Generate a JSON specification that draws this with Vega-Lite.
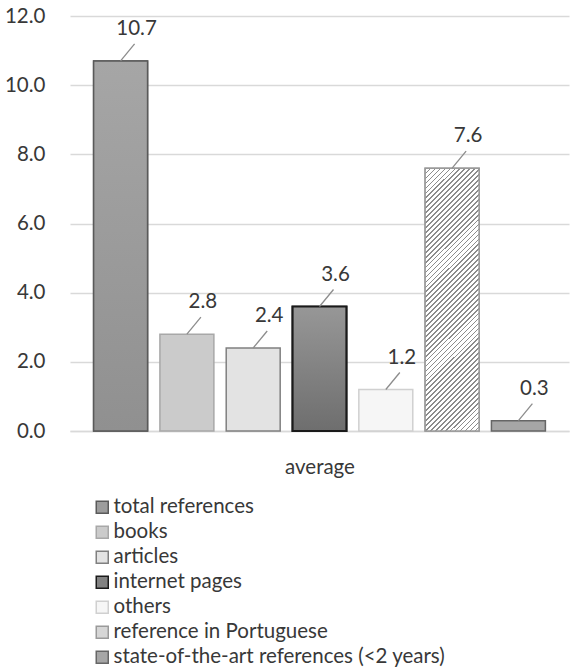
{
  "$schema": "https://vega.github.io/schema/vega-lite/v6.json",
  "width": 499,
  "height": 415,
  "autosize": {"type": "none"},
  "padding": {"left": 70, "top": 16, "right": 3, "bottom": 239},
  "background": "white",
  "config": {"font": "Lato", "view": {"stroke": null}},
  "data": {
    "values": [
      {"series": "total references", "value": 10.7},
      {"series": "books", "value": 2.8},
      {"series": "articles", "value": 2.4},
      {"series": "internet pages", "value": 3.6},
      {"series": "others", "value": 1.2},
      {"series": "reference in Portuguese", "value": 7.6},
      {"series": "state-of-the-art references (<2 years)", "value": 0.3}
    ]
  },
  "encoding": {
    "x": {
      "field": "series",
      "type": "nominal",
      "sort": null,
      "scale": {
        "domain": ["total references", "books", "articles", "internet pages", "others", "reference in Portuguese", "state-of-the-art references (<2 years)"],
        "paddingInner": 0.186,
        "paddingOuter": 0.356
      },
      "axis": {
        "labels": false,
        "ticks": false,
        "domain": true,
        "domainColor": "#d9d9d9",
        "domainWidth": 1.5,
        "title": "average",
        "titleFont": "Lato",
        "titleFontSize": 20.5,
        "titleFontWeight": "normal",
        "titleColor": "#383838",
        "titlePadding": 26
      }
    },
    "y": {
      "field": "value",
      "type": "quantitative",
      "scale": {"domain": [0, 12]},
      "axis": {
        "values": [0, 2, 4, 6, 8, 10, 12],
        "format": ".1f",
        "title": null,
        "domain": false,
        "ticks": false,
        "grid": true,
        "gridColor": "#d9d9d9",
        "gridWidth": 1.5,
        "labelFontSize": 20.5,
        "labelColor": "#383838",
        "labelPadding": 25
      }
    }
  },
  "layer": [
    {
      "mark": {"type": "bar"},
      "encoding": {
        "fill": {
          "field": "series",
          "type": "nominal",
          "sort": null,
          "scale": {
            "domain": ["total references", "books", "articles", "internet pages", "others", "reference in Portuguese", "state-of-the-art references (<2 years)"],
            "range": ["#9c9c9c", "#cbcbcb", "#e3e3e3", "#828282", "#f6f6f6", "#d6d6d6", "#a6a6a6"]
          },
          "legend": {
            "orient": "none",
            "legendX": 22,
            "legendY": 481,
            "direction": "vertical",
            "title": null,
            "padding": 0,
            "symbolType": "square",
            "symbolSize": 144,
            "symbolStrokeWidth": 1.5,
            "labelFont": "Lato",
            "labelFontSize": 20.5,
            "labelColor": "#383838",
            "labelOffset": 1,
            "labelLimit": 0,
            "rowPadding": 4
          }
        },
        "stroke": {
          "field": "series",
          "type": "nominal",
          "sort": null,
          "scale": {
            "domain": ["total references", "books", "articles", "internet pages", "others", "reference in Portuguese", "state-of-the-art references (<2 years)"],
            "range": ["#5a5a5a", "#a8a8a8", "#808080", "#1a1a1a", "#d0d0d0", "#9a9a9a", "#666666"]
          },
          "legend": {
            "orient": "none",
            "legendX": 22,
            "legendY": 481,
            "direction": "vertical",
            "title": null,
            "padding": 0,
            "symbolType": "square",
            "symbolSize": 144,
            "symbolStrokeWidth": 1.5,
            "labelFont": "Lato",
            "labelFontSize": 20.5,
            "labelColor": "#383838",
            "labelOffset": 1,
            "labelLimit": 0,
            "rowPadding": 4
          }
        },
        "strokeWidth": {
          "field": "series",
          "type": "ordinal",
          "sort": null,
          "scale": {
            "domain": ["total references", "books", "articles", "internet pages", "others", "reference in Portuguese", "state-of-the-art references (<2 years)"],
            "range": [1.5, 1.5, 1.5, 2.2, 1.5, 1.5, 1.5]
          },
          "legend": null
        }
      }
    },
    {
      "transform": [{"filter": "datum.series === 'total references'"}],
      "mark": {
        "type": "bar",
        "stroke": "#5a5a5a",
        "strokeWidth": 1.5,
        "fill": {"gradient": "linear", "x1": 0, "y1": 0, "x2": 0, "y2": 1, "stops": [{"offset": 0, "color": "#a6a6a6"}, {"offset": 1, "color": "#909090"}]}
      }
    },
    {
      "transform": [{"filter": "datum.series === 'internet pages'"}],
      "mark": {
        "type": "bar",
        "stroke": "#1a1a1a",
        "strokeWidth": 2.2,
        "fill": {"gradient": "linear", "x1": 0, "y1": 0, "x2": 0, "y2": 1, "stops": [{"offset": 0, "color": "#979797"}, {"offset": 1, "color": "#6e6e6e"}]}
      }
    },
    {
      "transform": [{"filter": "datum.series === 'reference in Portuguese'"}],
      "mark": {
        "type": "bar",
        "stroke": "#9a9a9a",
        "strokeWidth": 1.5,
        "fill": {"gradient": "linear", "x1": 0, "y1": 0, "x2": 0.237, "y2": 1.156, "stops": [
          {"offset": 0, "color": "#8c8c8c"}, {"offset": 0.0055, "color": "#8c8c8c"}, {"offset": 0.0055, "color": "#fff"}, {"offset": 0.015625, "color": "#fff"},
          {"offset": 0.015625, "color": "#8c8c8c"}, {"offset": 0.021125, "color": "#8c8c8c"}, {"offset": 0.021125, "color": "#fff"}, {"offset": 0.03125, "color": "#fff"},
          {"offset": 0.03125, "color": "#8c8c8c"}, {"offset": 0.03675, "color": "#8c8c8c"}, {"offset": 0.03675, "color": "#fff"}, {"offset": 0.046875, "color": "#fff"},
          {"offset": 0.046875, "color": "#8c8c8c"}, {"offset": 0.052375, "color": "#8c8c8c"}, {"offset": 0.052375, "color": "#fff"}, {"offset": 0.0625, "color": "#fff"},
          {"offset": 0.0625, "color": "#8c8c8c"}, {"offset": 0.068, "color": "#8c8c8c"}, {"offset": 0.068, "color": "#fff"}, {"offset": 0.078125, "color": "#fff"},
          {"offset": 0.078125, "color": "#8c8c8c"}, {"offset": 0.083625, "color": "#8c8c8c"}, {"offset": 0.083625, "color": "#fff"}, {"offset": 0.09375, "color": "#fff"},
          {"offset": 0.09375, "color": "#8c8c8c"}, {"offset": 0.09925, "color": "#8c8c8c"}, {"offset": 0.09925, "color": "#fff"}, {"offset": 0.109375, "color": "#fff"},
          {"offset": 0.109375, "color": "#8c8c8c"}, {"offset": 0.114875, "color": "#8c8c8c"}, {"offset": 0.114875, "color": "#fff"}, {"offset": 0.125, "color": "#fff"},
          {"offset": 0.125, "color": "#8c8c8c"}, {"offset": 0.1305, "color": "#8c8c8c"}, {"offset": 0.1305, "color": "#fff"}, {"offset": 0.140625, "color": "#fff"},
          {"offset": 0.140625, "color": "#8c8c8c"}, {"offset": 0.146125, "color": "#8c8c8c"}, {"offset": 0.146125, "color": "#fff"}, {"offset": 0.15625, "color": "#fff"},
          {"offset": 0.15625, "color": "#8c8c8c"}, {"offset": 0.16175, "color": "#8c8c8c"}, {"offset": 0.16175, "color": "#fff"}, {"offset": 0.171875, "color": "#fff"},
          {"offset": 0.171875, "color": "#8c8c8c"}, {"offset": 0.177375, "color": "#8c8c8c"}, {"offset": 0.177375, "color": "#fff"}, {"offset": 0.1875, "color": "#fff"},
          {"offset": 0.1875, "color": "#8c8c8c"}, {"offset": 0.193, "color": "#8c8c8c"}, {"offset": 0.193, "color": "#fff"}, {"offset": 0.203125, "color": "#fff"},
          {"offset": 0.203125, "color": "#8c8c8c"}, {"offset": 0.208625, "color": "#8c8c8c"}, {"offset": 0.208625, "color": "#fff"}, {"offset": 0.21875, "color": "#fff"},
          {"offset": 0.21875, "color": "#8c8c8c"}, {"offset": 0.22425, "color": "#8c8c8c"}, {"offset": 0.22425, "color": "#fff"}, {"offset": 0.234375, "color": "#fff"},
          {"offset": 0.234375, "color": "#8c8c8c"}, {"offset": 0.239875, "color": "#8c8c8c"}, {"offset": 0.239875, "color": "#fff"}, {"offset": 0.25, "color": "#fff"},
          {"offset": 0.25, "color": "#8c8c8c"}, {"offset": 0.2555, "color": "#8c8c8c"}, {"offset": 0.2555, "color": "#fff"}, {"offset": 0.265625, "color": "#fff"},
          {"offset": 0.265625, "color": "#8c8c8c"}, {"offset": 0.271125, "color": "#8c8c8c"}, {"offset": 0.271125, "color": "#fff"}, {"offset": 0.28125, "color": "#fff"},
          {"offset": 0.28125, "color": "#8c8c8c"}, {"offset": 0.28675, "color": "#8c8c8c"}, {"offset": 0.28675, "color": "#fff"}, {"offset": 0.296875, "color": "#fff"},
          {"offset": 0.296875, "color": "#8c8c8c"}, {"offset": 0.302375, "color": "#8c8c8c"}, {"offset": 0.302375, "color": "#fff"}, {"offset": 0.3125, "color": "#fff"},
          {"offset": 0.3125, "color": "#8c8c8c"}, {"offset": 0.318, "color": "#8c8c8c"}, {"offset": 0.318, "color": "#fff"}, {"offset": 0.328125, "color": "#fff"},
          {"offset": 0.328125, "color": "#8c8c8c"}, {"offset": 0.333625, "color": "#8c8c8c"}, {"offset": 0.333625, "color": "#fff"}, {"offset": 0.34375, "color": "#fff"},
          {"offset": 0.34375, "color": "#8c8c8c"}, {"offset": 0.34925, "color": "#8c8c8c"}, {"offset": 0.34925, "color": "#fff"}, {"offset": 0.359375, "color": "#fff"},
          {"offset": 0.359375, "color": "#8c8c8c"}, {"offset": 0.364875, "color": "#8c8c8c"}, {"offset": 0.364875, "color": "#fff"}, {"offset": 0.375, "color": "#fff"},
          {"offset": 0.375, "color": "#8c8c8c"}, {"offset": 0.3805, "color": "#8c8c8c"}, {"offset": 0.3805, "color": "#fff"}, {"offset": 0.390625, "color": "#fff"},
          {"offset": 0.390625, "color": "#8c8c8c"}, {"offset": 0.396125, "color": "#8c8c8c"}, {"offset": 0.396125, "color": "#fff"}, {"offset": 0.40625, "color": "#fff"},
          {"offset": 0.40625, "color": "#8c8c8c"}, {"offset": 0.41175, "color": "#8c8c8c"}, {"offset": 0.41175, "color": "#fff"}, {"offset": 0.421875, "color": "#fff"},
          {"offset": 0.421875, "color": "#8c8c8c"}, {"offset": 0.427375, "color": "#8c8c8c"}, {"offset": 0.427375, "color": "#fff"}, {"offset": 0.4375, "color": "#fff"},
          {"offset": 0.4375, "color": "#8c8c8c"}, {"offset": 0.443, "color": "#8c8c8c"}, {"offset": 0.443, "color": "#fff"}, {"offset": 0.453125, "color": "#fff"},
          {"offset": 0.453125, "color": "#8c8c8c"}, {"offset": 0.458625, "color": "#8c8c8c"}, {"offset": 0.458625, "color": "#fff"}, {"offset": 0.46875, "color": "#fff"},
          {"offset": 0.46875, "color": "#8c8c8c"}, {"offset": 0.47425, "color": "#8c8c8c"}, {"offset": 0.47425, "color": "#fff"}, {"offset": 0.484375, "color": "#fff"},
          {"offset": 0.484375, "color": "#8c8c8c"}, {"offset": 0.489875, "color": "#8c8c8c"}, {"offset": 0.489875, "color": "#fff"}, {"offset": 0.5, "color": "#fff"},
          {"offset": 0.5, "color": "#8c8c8c"}, {"offset": 0.5055, "color": "#8c8c8c"}, {"offset": 0.5055, "color": "#fff"}, {"offset": 0.515625, "color": "#fff"},
          {"offset": 0.515625, "color": "#8c8c8c"}, {"offset": 0.521125, "color": "#8c8c8c"}, {"offset": 0.521125, "color": "#fff"}, {"offset": 0.53125, "color": "#fff"},
          {"offset": 0.53125, "color": "#8c8c8c"}, {"offset": 0.53675, "color": "#8c8c8c"}, {"offset": 0.53675, "color": "#fff"}, {"offset": 0.546875, "color": "#fff"},
          {"offset": 0.546875, "color": "#8c8c8c"}, {"offset": 0.552375, "color": "#8c8c8c"}, {"offset": 0.552375, "color": "#fff"}, {"offset": 0.5625, "color": "#fff"},
          {"offset": 0.5625, "color": "#8c8c8c"}, {"offset": 0.568, "color": "#8c8c8c"}, {"offset": 0.568, "color": "#fff"}, {"offset": 0.578125, "color": "#fff"},
          {"offset": 0.578125, "color": "#8c8c8c"}, {"offset": 0.583625, "color": "#8c8c8c"}, {"offset": 0.583625, "color": "#fff"}, {"offset": 0.59375, "color": "#fff"},
          {"offset": 0.59375, "color": "#8c8c8c"}, {"offset": 0.59925, "color": "#8c8c8c"}, {"offset": 0.59925, "color": "#fff"}, {"offset": 0.609375, "color": "#fff"},
          {"offset": 0.609375, "color": "#8c8c8c"}, {"offset": 0.614875, "color": "#8c8c8c"}, {"offset": 0.614875, "color": "#fff"}, {"offset": 0.625, "color": "#fff"},
          {"offset": 0.625, "color": "#8c8c8c"}, {"offset": 0.6305, "color": "#8c8c8c"}, {"offset": 0.6305, "color": "#fff"}, {"offset": 0.640625, "color": "#fff"},
          {"offset": 0.640625, "color": "#8c8c8c"}, {"offset": 0.646125, "color": "#8c8c8c"}, {"offset": 0.646125, "color": "#fff"}, {"offset": 0.65625, "color": "#fff"},
          {"offset": 0.65625, "color": "#8c8c8c"}, {"offset": 0.66175, "color": "#8c8c8c"}, {"offset": 0.66175, "color": "#fff"}, {"offset": 0.671875, "color": "#fff"},
          {"offset": 0.671875, "color": "#8c8c8c"}, {"offset": 0.677375, "color": "#8c8c8c"}, {"offset": 0.677375, "color": "#fff"}, {"offset": 0.6875, "color": "#fff"},
          {"offset": 0.6875, "color": "#8c8c8c"}, {"offset": 0.693, "color": "#8c8c8c"}, {"offset": 0.693, "color": "#fff"}, {"offset": 0.703125, "color": "#fff"},
          {"offset": 0.703125, "color": "#8c8c8c"}, {"offset": 0.708625, "color": "#8c8c8c"}, {"offset": 0.708625, "color": "#fff"}, {"offset": 0.71875, "color": "#fff"},
          {"offset": 0.71875, "color": "#8c8c8c"}, {"offset": 0.72425, "color": "#8c8c8c"}, {"offset": 0.72425, "color": "#fff"}, {"offset": 0.734375, "color": "#fff"},
          {"offset": 0.734375, "color": "#8c8c8c"}, {"offset": 0.739875, "color": "#8c8c8c"}, {"offset": 0.739875, "color": "#fff"}, {"offset": 0.75, "color": "#fff"},
          {"offset": 0.75, "color": "#8c8c8c"}, {"offset": 0.7555, "color": "#8c8c8c"}, {"offset": 0.7555, "color": "#fff"}, {"offset": 0.765625, "color": "#fff"},
          {"offset": 0.765625, "color": "#8c8c8c"}, {"offset": 0.771125, "color": "#8c8c8c"}, {"offset": 0.771125, "color": "#fff"}, {"offset": 0.78125, "color": "#fff"},
          {"offset": 0.78125, "color": "#8c8c8c"}, {"offset": 0.78675, "color": "#8c8c8c"}, {"offset": 0.78675, "color": "#fff"}, {"offset": 0.796875, "color": "#fff"},
          {"offset": 0.796875, "color": "#8c8c8c"}, {"offset": 0.802375, "color": "#8c8c8c"}, {"offset": 0.802375, "color": "#fff"}, {"offset": 0.8125, "color": "#fff"},
          {"offset": 0.8125, "color": "#8c8c8c"}, {"offset": 0.818, "color": "#8c8c8c"}, {"offset": 0.818, "color": "#fff"}, {"offset": 0.828125, "color": "#fff"},
          {"offset": 0.828125, "color": "#8c8c8c"}, {"offset": 0.833625, "color": "#8c8c8c"}, {"offset": 0.833625, "color": "#fff"}, {"offset": 0.84375, "color": "#fff"},
          {"offset": 0.84375, "color": "#8c8c8c"}, {"offset": 0.84925, "color": "#8c8c8c"}, {"offset": 0.84925, "color": "#fff"}, {"offset": 0.859375, "color": "#fff"},
          {"offset": 0.859375, "color": "#8c8c8c"}, {"offset": 0.864875, "color": "#8c8c8c"}, {"offset": 0.864875, "color": "#fff"}, {"offset": 0.875, "color": "#fff"},
          {"offset": 0.875, "color": "#8c8c8c"}, {"offset": 0.8805, "color": "#8c8c8c"}, {"offset": 0.8805, "color": "#fff"}, {"offset": 0.890625, "color": "#fff"},
          {"offset": 0.890625, "color": "#8c8c8c"}, {"offset": 0.896125, "color": "#8c8c8c"}, {"offset": 0.896125, "color": "#fff"}, {"offset": 0.90625, "color": "#fff"},
          {"offset": 0.90625, "color": "#8c8c8c"}, {"offset": 0.91175, "color": "#8c8c8c"}, {"offset": 0.91175, "color": "#fff"}, {"offset": 0.921875, "color": "#fff"},
          {"offset": 0.921875, "color": "#8c8c8c"}, {"offset": 0.927375, "color": "#8c8c8c"}, {"offset": 0.927375, "color": "#fff"}, {"offset": 0.9375, "color": "#fff"},
          {"offset": 0.9375, "color": "#8c8c8c"}, {"offset": 0.943, "color": "#8c8c8c"}, {"offset": 0.943, "color": "#fff"}, {"offset": 0.953125, "color": "#fff"},
          {"offset": 0.953125, "color": "#8c8c8c"}, {"offset": 0.958625, "color": "#8c8c8c"}, {"offset": 0.958625, "color": "#fff"}, {"offset": 0.96875, "color": "#fff"},
          {"offset": 0.96875, "color": "#8c8c8c"}, {"offset": 0.97425, "color": "#8c8c8c"}, {"offset": 0.97425, "color": "#fff"}, {"offset": 0.984375, "color": "#fff"},
          {"offset": 0.984375, "color": "#8c8c8c"}, {"offset": 0.989875, "color": "#8c8c8c"}, {"offset": 0.989875, "color": "#fff"}, {"offset": 1, "color": "#fff"}
        ]}
      }
    },
    {
      "mark": {"type": "rule", "color": "#8c8c8c", "strokeWidth": 1.3, "x2Offset": 14, "y2Offset": -17},
      "encoding": {
        "x": {"field": "series", "type": "nominal", "sort": null, "bandPosition": 0.5},
        "x2": {"field": "series", "bandPosition": 0.5},
        "y2": {"field": "value"}
      }
    },
    {
      "mark": {"type": "text", "align": "center", "baseline": "middle", "dx": 16, "dy": -32, "fontSize": 20.5, "color": "#383838", "font": "Lato"},
      "encoding": {
        "text": {"field": "value", "type": "quantitative", "format": ".1f"}
      }
    }
  ]
}
